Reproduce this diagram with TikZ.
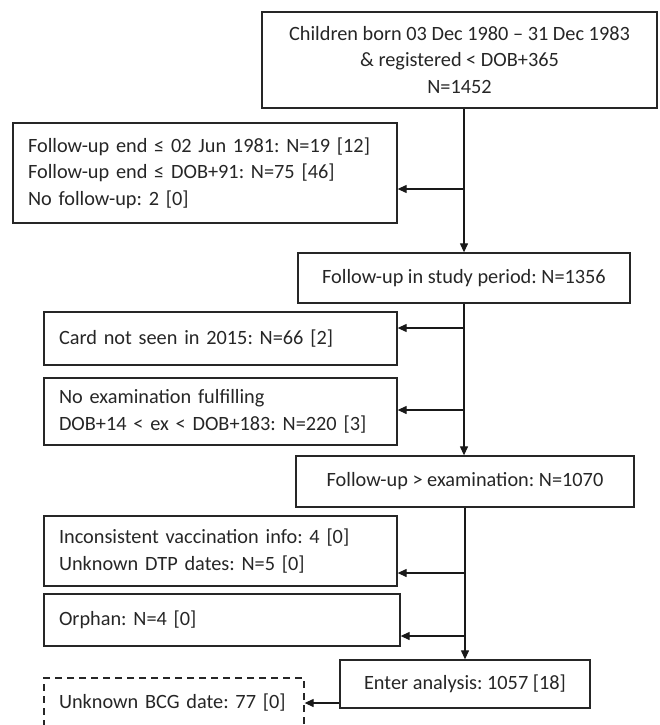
\documentclass[tikz,border=0pt]{standalone}
\usepackage{fontspec}
\setmainfont{Carlito}
\usetikzlibrary{arrows.meta}
\frenchspacing
\begin{document}
\begin{tikzpicture}[x=1pt,y=-1pt,
  box/.style={draw=black!85, line width=1.3pt, inner sep=0pt, font=\fontsize{20.3}{26.5}\selectfont, text=black!85},
  mainbox/.style={box, align=center},
  sidebox/.style={box, align=left, inner xsep=15pt},
  dbox/.style={sidebox, dash pattern=on 7pt off 5pt},
  arr/.style={-{Triangle[length=9pt,width=8pt]}, line width=1.2pt, draw=black!90}]
\useasboundingbox (0,0) rectangle (660,725);
\clip (0,0) rectangle (660,725);
\node[mainbox, minimum width=395pt, minimum height=96pt] (n0) at (459.5,60)
  {Children born 03 Dec 1980 -- 31 Dec 1983\\ \& registered < DOB+365\\ N=1452};
\node[sidebox, text width=354pt, minimum height=100pt] (x1) at (205,173)
  {Follow-up end ≤ 02 Jun 1981: N=19 [12]\\ Follow-up end ≤ DOB+91: N=75 [46]\\ No follow-up: 2 [0]};
\node[mainbox, minimum width=332pt, minimum height=50pt] (n1) at (464,278)
  {Follow-up in study period: N=1356};
\node[sidebox, text width=323pt, minimum height=53pt] (x2) at (220.5,338.5)
  {Card not seen in 2015: N=66 [2]};
\node[sidebox, text width=323pt, minimum height=67pt] (x3) at (220.5,411.5)
  {No examination fulfilling\\ DOB+14 < ex < DOB+183: N=220 [3]};
\node[mainbox, minimum width=338pt, minimum height=51pt] (n2) at (465,481.5)
  {Follow-up > examination: N=1070};
\node[sidebox, text width=323pt, minimum height=70pt] (x4) at (220.5,551)
  {Inconsistent vaccination info: 4 [0]\\ Unknown DTP dates: N=5 [0]};
\node[sidebox, text width=326pt, minimum height=52pt] (x5) at (222,620)
  {Orphan: N=4 [0]};
\node[mainbox, minimum width=250pt, minimum height=48pt] (n3) at (465,684)
  {Enter analysis: 1057 [18]};
\node[dbox, text width=230pt, minimum height=50pt] (x6) at (174,703)
  {Unknown BCG date: 77 [0]};
\coordinate (b1) at (464,189);
\coordinate (b2) at (464,328);
\coordinate (b3) at (464,410);
\coordinate (b4) at (465,573);
\coordinate (b5) at (465,636);
\draw[arr] (n1.north |- n0.south) -- (n1.north);
\draw[arr] (b1) -- (b1 -| x1.east);
\draw[arr] (n1.south) -- (n1.south |- n2.north);
\draw[arr] (b2) -- (b2 -| x2.east);
\draw[arr] (b3) -- (b3 -| x3.east);
\draw[arr] (n2.south) -- (n2.south |- n3.north);
\draw[arr] (b4) -- (b4 -| x4.east);
\draw[arr] (b5) -- (b5 -| x5.east);
\draw[arr] (n3.west |- x6.east) -- (x6.east);
\end{tikzpicture}
\end{document}
